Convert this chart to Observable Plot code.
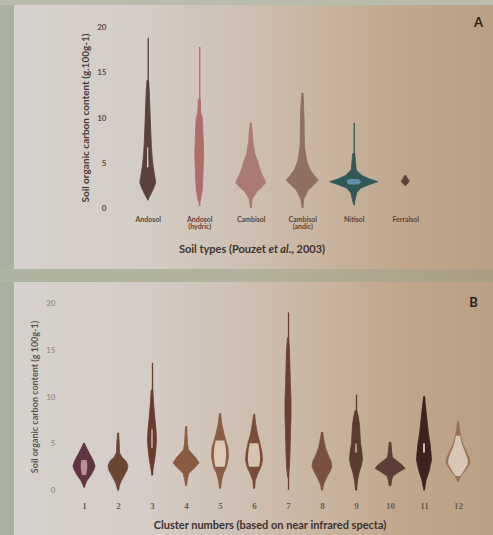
<!DOCTYPE html>
<html><head><meta charset="utf-8">
<script src="https://cdn.jsdelivr.net/npm/d3@7"></script>
<script src="https://cdn.jsdelivr.net/npm/@observablehq/plot@0.6"></script>
<style>
html,body{margin:0;padding:0;}
body{width:493px;height:535px;position:relative;overflow:hidden;font-family:Lato,"Open Sans",sans-serif;
 background:linear-gradient(90deg,#d7d2ce 0%,#d4ccc6 30%,#cbbaa9 58%,#c0a78b 82%,#b99f83 100%);}
#frameL{position:absolute;left:0;top:0;width:14px;height:535px;background:#a8b29e;}
#frameT{position:absolute;left:0;top:0;width:493px;height:5px;background:#b9bcac;}
#band{position:absolute;left:0;top:269px;width:493px;height:13px;background:linear-gradient(90deg,#aeb5a0,#b4b29c 50%,#a99d82);}
#a{position:absolute;left:0;top:0;}
#b{position:absolute;left:0;top:275px;}
.xt{position:absolute;font-weight:bold;color:#3e332e;white-space:nowrap;transform:translateX(-50%);}
</style></head>
<body>
<div id="frameL"></div><div id="frameT"></div><div id="band"></div>
<div id="a"></div><div id="b"></div>
<div class="xt" style="left:252px;top:242px;font-size:11px;">Soil types (Pouzet <i>et al.</i>, 2003)</div>
<div class="xt" style="left:270px;top:518px;font-size:11px;">Cluster numbers (based on near infrared specta)</div>
<script>
// ---------- Panel A data ----------
const soilTypes = ["Andosol", "Andosol\n(hydric)", "Cambisol", "Cambisol\n(andic)", "Nitisol", "Ferralsol"];
const soilTicks = [0, 5, 10, 15, 20];
// violin profiles: [soil organic carbon value, relative density]
const soilProfiles = [
  [[0.9,0],[1.5,3],[2.2,6],[2.8,8],[3.5,7],[4.5,5.5],[5.5,4.5],[6.7,3.7],[8,3.2],[10,2.5],[11.6,2],[13,1.5],[14.1,0.8]],
  [[0.5,0],[1,1.5],[2,3],[3,3.5],[4.5,4],[6,4.5],[7.5,4],[9,3.5],[10,3],[10.5,1.5],[12,1]],
  [[0.1,0.4],[1,1.5],[1.8,6],[2.3,11],[2.8,15],[3.3,13],[4,10],[5.3,6.5],[6,4],[6.7,3],[7.5,2],[8.5,1.5],[9.4,0.4]],
  [[0.1,0.4],[1,1.5],[2,6],[2.6,12],[3.1,16],[3.6,12],[4.2,8],[5,5],[5.8,3.5],[6.7,2.2],[8,2],[10,1.8],[11.5,1.2],[12.7,0.4]],
  [[0.5,0.4],[1,1.5],[1.7,3],[2.2,7],[2.6,16],[2.9,24],[3.2,16],[3.6,8],[4.2,2.5],[4.8,2],[6,1]],
  [[2.5,0.4],[2.8,3],[3,4],[3.3,2],[3.6,0.4]]
];
const soilWhiskers = [[0.9,18.8],[0.2,17.8],[0,9.4],[0,12.7],[0.3,9.4],[2.5,3.6]];
const soilInner = [[3.9,6.7],null,null,null,[2.3,3.5],null]; // inner marks [lo, hi]

// ---------- Panel B data ----------
const clusters = ["1","2","3","4","5","6","7","8","9","10","11","12"];
const clusterTicks = [0, 5, 10, 15, 20];
const clusterProfiles = [
  [[0.3,0],[1,3],[1.6,7],[2.2,10],[2.6,11],[3.2,9],[3.8,6],[4.4,3],[5.0,0.4]],
  [[0,0.4],[0.5,1.5],[0.9,3],[1.5,6],[2.1,9],[2.6,10],[3.1,8],[3.5,4],[4,1.5],[5,1.2],[6.1,0.4]],
  [[1.6,0],[2.5,1.5],[3.5,3],[4.5,4],[5.3,4.5],[6.5,4],[7.5,3],[8.5,2.2],[9.5,1.5],[10.7,0.8]],
  [[0.5,0.4],[1.2,1.5],[1.8,3],[2.4,9],[2.9,13],[3.4,10],[3.9,6],[4.3,2.5],[5,1.5],[6.8,0.4]],
  [[0.2,0.4],[1,1.5],[1.8,3.5],[2.5,6.5],[3.5,8.5],[4.5,8],[5.3,6],[6,4],[7,2],[8.2,0.4]],
  [[0.2,0.4],[1,1.2],[1.8,4],[2.5,7],[3.2,8.5],[4,8],[5,6],[6,3.5],[7,1.8],[8.1,0.4]],
  [[1.4,0.3],[2.5,1.5],[4,2],[6,2.5],[8,3],[9.6,3],[11,2.5],[13,2],[15,1.5],[16.3,0.5]],
  [[0,0.4],[0.6,1.5],[1.3,4.5],[2,8],[2.5,10],[3.1,9],[3.8,6],[4.5,3.5],[5.3,2],[6.2,0.4]],
  [[0,0.3],[1,1.5],[1.8,3],[2.5,5],[3.2,6.5],[4,6],[5,4.5],[6,4],[7,3.5],[8,2],[8.5,0.8]],
  [[0.5,1],[1,1.5],[1.5,3],[2,10],[2.3,15],[2.7,12],[3.1,7],[3.5,2.5],[4,1.8],[5.1,0.8]],
  [[0,0.2],[1,2],[2,5],[3.2,7.5],[4,7],[5,6],[6,4.5],[7,3.5],[8,2.5],[9,1.5],[10,0.3]],
  [[0.9,0.4],[1.5,3],[2.2,8],[2.9,12],[3.5,11],[4.2,8],[5,4.5],[5.8,2.5],[6.5,1.5],[7.3,0.4]]
];
const clusterWhiskers = [[0.3,5.0],[0,6.1],[1.6,13.6],[0.5,6.8],[0.2,8.2],[0.2,8.1],[0,19],[0,6.2],[0,10.2],[0.5,5.1],[0,10],[0.9,7.3]];
const clusterInner = [[1.6,3.4],null,[4.3,7],null,[2.3,5.3],[2.2,5],null,null,[3.3,5.3],null,[3.5,5.5],[1.5,5.8]];

// ---------- styles ----------
const soilColors = ["#5b413c","#b06c6b","#ab7a74","#8e6f60","#2e5858","#5c4233"];
const soilInnerStyle = [{fill:"#ece6e0", f:0.12}, null, null, null, {fill:"#5f8fa6", f:0.3}, null];
const clusterColors = ["#5e3540","#6b4535","#6a3b2d","#8a5a42","#8b5c44","#7a4b39","#6a4030","#7b5040","#5b3a30","#5c3e36","#3b2420","#9a6e5c"];
const clusterInnerStyle = [{fill:"#b98f98", f:0.3}, null, {fill:"#efe6dc", f:0.12}, null, {fill:"#dcc9b8", f:0.72},
  {fill:"#d6c2b0", f:0.72}, null, null, {fill:"#efe6dc", f:0.1}, null, {fill:"#efe6dc", f:0.12}, {fill:"#d8c6b6", f:0.82}];

function violinMarks(profiles, whiskers, inner, colors, innerStyle, maxHalf) {
  const dmax = d3.max(profiles.flat(), p => p[1]);
  const marks = [];
  profiles.forEach((prof, i) => {
    const c = i + 1;
    const rows = prof.map(([v, d]) => ({v, x1: c - d / dmax * maxHalf, x2: c + d / dmax * maxHalf}));
    marks.push(Plot.ruleX([c], {y1: whiskers[i][0], y2: whiskers[i][1], stroke: colors[i], strokeWidth: 1.3}));
    marks.push(Plot.areaX(rows, {y: "v", x1: "x1", x2: "x2", fill: colors[i], stroke: colors[i], strokeWidth: 0.8, curve: "linear"}));
    const inn = inner[i];
    if (inn) {
      const [lo, hi] = inn, {fill, f} = innerStyle[i];
      const irows = prof.filter(([v]) => v >= lo && v <= hi)
        .map(([v, d]) => ({v, x1: c - d / dmax * maxHalf * f, x2: c + d / dmax * maxHalf * f}));
      marks.push(Plot.areaX(irows, {y: "v", x1: "x1", x2: "x2", fill, curve: "catmull-rom"}));
    }
  });
  return marks;
}

// ---------- Panel A ----------
const plotA = Plot.plot({
  width: 493, height: 258,
  marginTop: 27, marginBottom: 50, marginLeft: 122, marginRight: 62,
  style: {background: "transparent", fontFamily: "Lato, 'Open Sans', sans-serif"},
  x: {domain: [0.5, soilTypes.length + 0.5], axis: null},
  y: {domain: [0, 20], axis: null},
  marks: [
    Plot.axisY({ticks: soilTicks, label: null, tickSize: 0, tickPadding: 16, fontSize: 8, fontWeight: "bold", color: "#5a4b42"}),
    Plot.axisX({ticks: d3.range(1, soilTypes.length + 1), label: null, tickFormat: i => soilTypes[i - 1], tickSize: 0, tickPadding: 9, fontSize: 7, fontWeight: "bold", color: "#5e4438"}),
    ...violinMarks(soilProfiles, soilWhiskers, soilInner, soilColors, soilInnerStyle, 0.467),
    Plot.text(["Soil organic carbon content (g.100g-1)"], {frameAnchor: "left", textAnchor: "middle", rotate: -90, dx: -37, fontSize: 10, fontWeight: "bold", fill: "#4a3c36"}),
    Plot.text(["A"], {frameAnchor: "top-right", dx: 47, dy: -10, textAnchor: "middle", fontSize: 13, fontWeight: "bold", fill: "#2a211e"})
  ]
});
document.getElementById("a").append(plotA);

// ---------- Panel B ----------
const plotB = Plot.plot({
  width: 493, height: 260,
  marginTop: 28, marginBottom: 45, marginLeft: 67, marginRight: 18,
  style: {background: "transparent", fontFamily: "Lato, 'Open Sans', sans-serif"},
  x: {domain: [0.5, clusters.length + 0.5], axis: null},
  y: {domain: [0, 20], axis: null},
  marks: [
    Plot.axisY({ticks: clusterTicks, label: null, tickSize: 0, tickPadding: 12, fontSize: 8, fontWeight: "bold", color: "#9e958d"}),
    Plot.axisX({ticks: d3.range(1, clusters.length + 1), label: null, tickFormat: i => clusters[i - 1], tickSize: 0, tickPadding: 12, fontSize: 9, fontWeight: "bold", fontFamily: "'Liberation Serif', serif", color: "#6b5d55"}),
    ...violinMarks(clusterProfiles, clusterWhiskers, clusterInner, clusterColors, clusterInnerStyle, 0.44),
    Plot.text(["Soil organic carbon content (g 100g-1)"], {frameAnchor: "left", textAnchor: "middle", rotate: -90, dx: -32, fontSize: 9, fontWeight: "bold", fill: "#4a3c36", fillOpacity: 0.85}),
    Plot.text(["B"], {frameAnchor: "top-right", dx: -2, dy: -6, textAnchor: "middle", fontSize: 13, fontWeight: "bold", fill: "#2a211e"})
  ]
});
document.getElementById("b").append(plotB);
</script>
</body></html>
